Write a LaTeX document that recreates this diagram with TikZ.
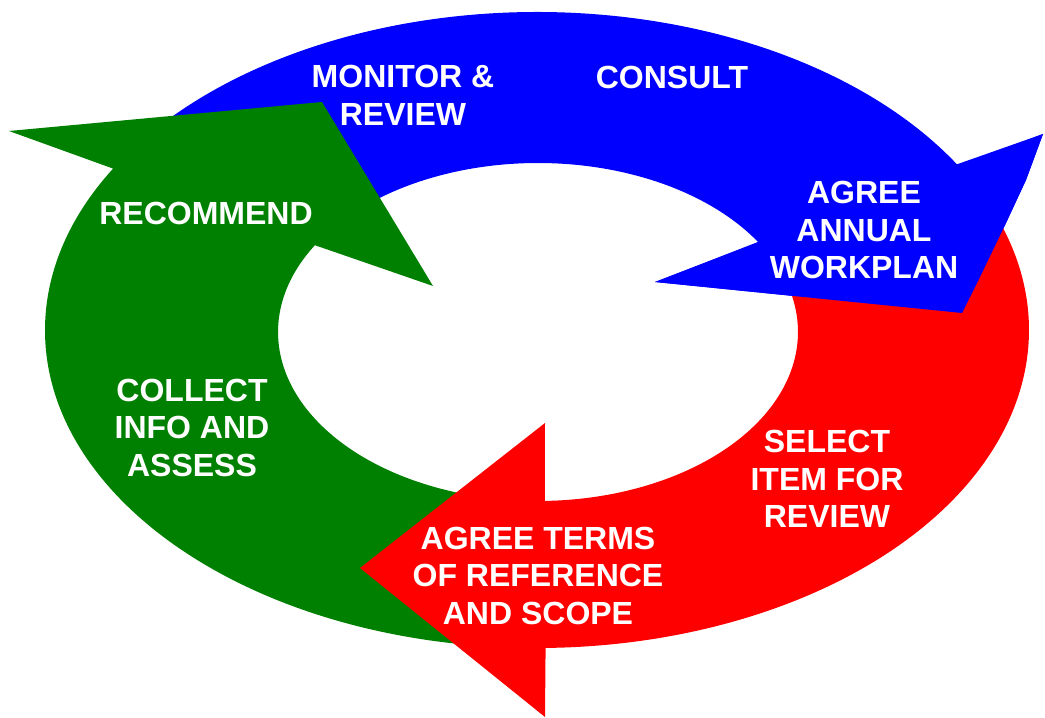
\documentclass[tikz,border=0pt]{standalone}
\usepackage{fontspec}
\setmainfont{Liberation Sans}
\usetikzlibrary{calc}
\definecolor{cblue}{RGB}{0,0,255}
\definecolor{cred}{RGB}{255,0,0}
\definecolor{cgreen}{RGB}{0,128,0}
\tikzset{
  lbl/.style={text=white, font=\fontsize{32}{37.5}\selectfont\bfseries, align=center, inner sep=0pt},
  oarc/.style={x radius=492pt, y radius=318pt},
  iarc/.style={x radius=260pt, y radius=169pt}
}
\begin{document}
\begin{tikzpicture}[x=1pt,y=1pt]
\useasboundingbox (0,0) rectangle (1045,718);
\fill[white] (0,0) rectangle (1045,718);
\coordinate (oc) at (537,388);
\coordinate (ic) at (538,386);
% blue arrow (top)
\fill[cblue] ($(oc)+(142:492pt and 318pt)$) arc[start angle=142, end angle=31.4, oarc]
  -- (1043,584) -- (1026,538) -- (1006,495) -- (980,441) -- (962,405) -- (655,436)
  -- ($(ic)+(32.2:260pt and 169pt)$) arc[start angle=32.2, end angle=143, iarc] -- cycle;
% green arrow (left)
\fill[cgreen] ($(oc)+(265.7:492pt and 318pt)$) arc[start angle=265.7, end angle=149.5, oarc]
  -- (9,587) -- (322,616) -- (433,432)
  -- ($(ic)+(149.1:260pt and 169pt)$) arc[start angle=149.1, end angle=261.6, iarc] -- cycle;
% red arrow (bottom right)
\fill[cred] ($(oc)+(24:492pt and 318pt)$) arc[start angle=24, end angle=-89, oarc]
  -- (545,1) -- (360,150) -- (545,295)
  -- ($(ic)+(-88.5:260pt and 169pt)$) arc[start angle=-88.5, end angle=24, iarc] -- cycle;
% blue arrow head again, over the red tail
\fill[cblue] (1043,584) -- (1026,538) -- (1006,495) -- (980,441) -- (962,405) -- (655,436) -- cycle;
% labels
\node[lbl] (monitor) at (403,622.5) {MONITOR \&\\REVIEW};
\node[lbl] (consult) at (672,640.5) {CONSULT};
\node[lbl] (agree) at (864,488) {AGREE\\ANNUAL\\WORKPLAN};
\node[lbl] (recommend) at (206,505) {RECOMMEND};
\node[lbl] (collect) at (192,290.5) {COLLECT\\INFO AND\\ASSESS};
\node[lbl] (select) at (827,239) {SELECT\\ITEM FOR\\REVIEW};
\node[lbl] (terms) at (538,142.5) {AGREE TERMS\\OF REFERENCE\\AND SCOPE};
\end{tikzpicture}
\end{document}
